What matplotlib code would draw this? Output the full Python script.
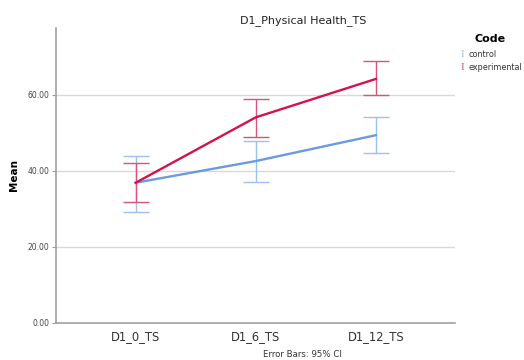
import numpy as np
import matplotlib.pyplot as plt

# Means and 95% CI bounds per time point
times = ['D1_0_TS', 'D1_6_TS', 'D1_12_TS']
control_mean = [36.9, 42.6, 49.4]
control_lo = [29.3, 37.1, 44.6]
control_hi = [44.0, 48.0, 54.2]
exp_mean = [36.9, 54.1, 64.2]
exp_lo = [31.7, 48.9, 60.0]
exp_hi = [42.0, 59.0, 68.9]

blue_line = '#6a9be0'
blue_bar = '#9ec1ec'
red_line = '#d2144a'
red_bar = '#d6547a'

fig = plt.figure(figsize=(5.24, 3.6), dpi=100)
ax = fig.add_axes([0.1069, 0.1028, 0.7615, 0.8194])

x = np.arange(len(times))

def draw_group(mean, lo, hi, lc, bc):
    mean = np.array(mean)
    err = [mean - np.array(lo), np.array(hi) - mean]
    ax.errorbar(x, mean, yerr=err, fmt='none', ecolor=bc, elinewidth=1.0,
                capsize=9.7, capthick=1.0, zorder=3)
    ax.plot(x, mean, color=lc, linewidth=1.7, zorder=4)

draw_group(control_mean, control_lo, control_hi, blue_line, blue_bar)
draw_group(exp_mean, exp_lo, exp_hi, red_line, red_bar)

ax.set_xlim(-0.664, 2.66)
ax.set_ylim(0, 77.6)
ax.set_yticks([0, 20, 40, 60])
ax.set_yticklabels(['0.00', '20.00', '40.00', '60.00'], fontsize=5.5, color='#444444')
ax.set_xticks(x)
ax.set_xticklabels(times, fontsize=8.3, color='#333333')
ax.tick_params(axis='y', length=3, width=0.8, color='#999999', pad=2)
ax.tick_params(axis='x', length=0, pad=5)
ax.grid(axis='y', color='#d9d9d9', linewidth=1)
ax.set_axisbelow(True)
for s in ['top', 'right']:
    ax.spines[s].set_visible(False)
for s in ['left', 'bottom']:
    ax.spines[s].set_color('#a0a0a0')
    ax.spines[s].set_linewidth(1.2)

ax.set_ylabel('Mean', fontsize=7.5, fontweight='bold', labelpad=6)

fig.text(0.578, 0.944, 'D1_Physical Health_TS', fontsize=8, ha='center', va='center',
         color='#222222')
fig.text(0.578, 0.014, 'Error Bars: 95% CI', fontsize=6.2, ha='center', va='center',
         color='#333333')

# legend on the right side
fig.text(0.935, 0.893, 'Code', fontsize=8, fontweight='bold', ha='center', va='center')
fig.text(0.882, 0.848, 'I', color=blue_bar, fontsize=8, ha='center', va='center',
         family='Liberation Serif')
fig.text(0.895, 0.848, 'control', fontsize=5.8, ha='left', va='center', color='#333333')
fig.text(0.882, 0.812, 'I', color=red_bar, fontsize=8, ha='center', va='center',
         family='Liberation Serif')
fig.text(0.895, 0.812, 'experimental', fontsize=5.8, ha='left', va='center', color='#333333')

fig.savefig('out.png', dpi=100)
